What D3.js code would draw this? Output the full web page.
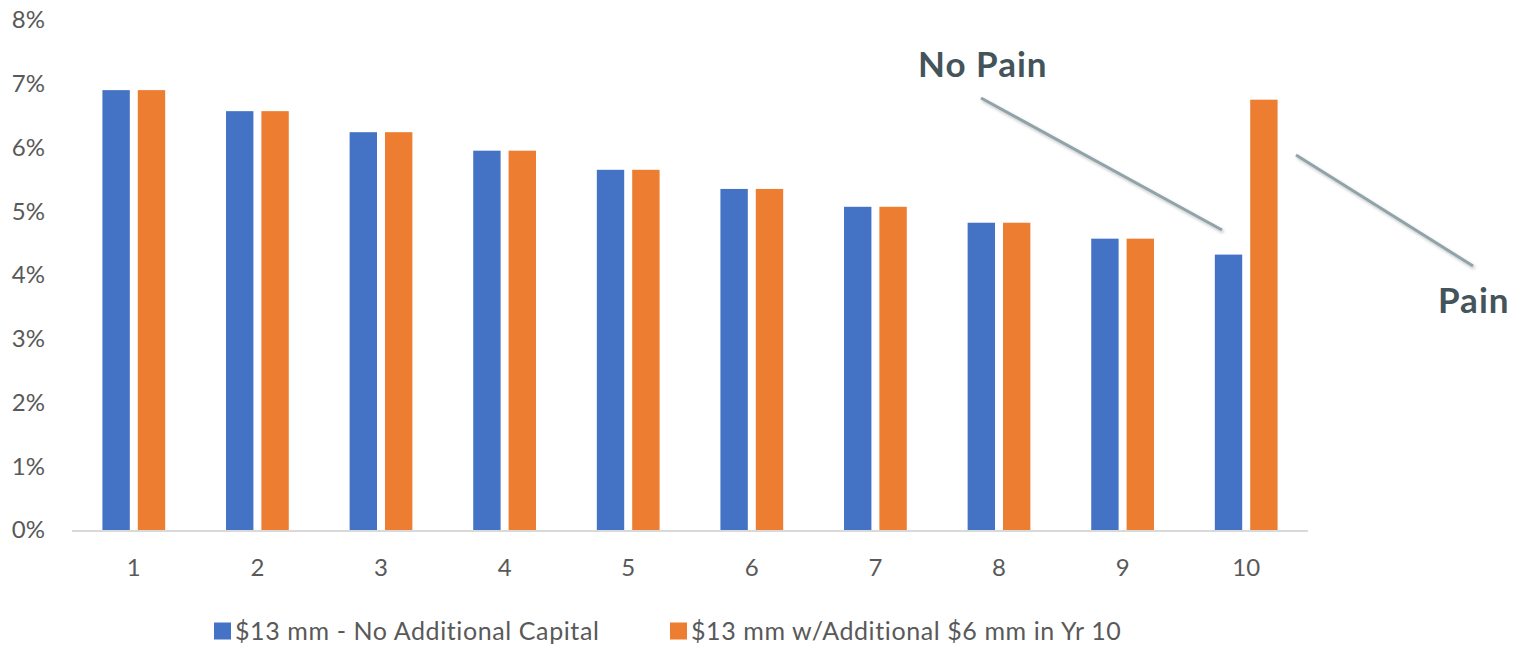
<!DOCTYPE html>
<html>
<head>
<meta charset="utf-8">
<script src="https://cdn.jsdelivr.net/npm/d3@7/dist/d3.min.js"></script>
<style>
  body { margin: 0; background: #fff; }
  svg text { font-family: Lato, "Open Sans", sans-serif; }
</style>
</head>
<body>
<div id="chart"></div>
<script>
let years = ["1", "2", "3", "4", "5", "6", "7", "8", "9", "10"];
let seriesNames = ["$13 mm - No Additional Capital", "$13 mm w/Additional $6 mm in Yr 10"];
let noCapital = [0.0690, 0.0657, 0.0624, 0.0595, 0.0565, 0.0535, 0.0507, 0.0482, 0.0457, 0.0432];
let withCapital = [0.0690, 0.0657, 0.0624, 0.0595, 0.0565, 0.0535, 0.0507, 0.0482, 0.0457, 0.0675];
let yTicks = [0, 0.01, 0.02, 0.03, 0.04, 0.05, 0.06, 0.07, 0.08];
let colors = ["#4472c4", "#ed7d31"];

let width = 1526, height = 646;
let margin = { top: 20, right: 218, bottom: 116, left: 72 };

let svg = d3.select("#chart").append("svg")
  .attr("width", width)
  .attr("height", height);

let defs = svg.append("defs");
let shadow = defs.append("filter").attr("id", "shadow")
  .attr("x", "-20%").attr("y", "-20%").attr("width", "140%").attr("height", "140%");
shadow.append("feDropShadow")
  .attr("dx", 1.5).attr("dy", 2).attr("stdDeviation", 1.5)
  .attr("flood-color", "#000").attr("flood-opacity", 0.25);

let x0 = d3.scaleBand()
  .domain(years)
  .range([margin.left, width - margin.right])
  .padding(0);

let x1 = d3.scaleBand()
  .domain([0, 1])
  .range([0, x0.bandwidth()])
  .paddingInner(0.226)
  .paddingOuter(0.86);

let y = d3.scaleLinear()
  .domain([0, 0.08])
  .range([height - margin.bottom, margin.top]);

// y tick labels
svg.append("g")
  .selectAll("text")
  .data(yTicks)
  .enter().append("text")
  .attr("x", 45)
  .attr("y", d => y(d))
  .attr("dy", "0.35em")
  .attr("text-anchor", "end")
  .attr("fill", "#595959")
  .style("font-size", "24px")
  .text(d3.format(".0%"));

// bars
let data = years.map((yr, i) => ({ year: yr, values: [noCapital[i], withCapital[i]] }));

let groups = svg.append("g")
  .selectAll("g")
  .data(data)
  .enter().append("g")
  .attr("transform", d => "translate(" + x0(d.year) + ",0)");

groups.selectAll("rect")
  .data(d => d.values.map((v, k) => ({ k: k, v: v })))
  .enter().append("rect")
  .attr("x", d => x1(d.k))
  .attr("width", x1.bandwidth())
  .attr("y", d => y(d.v))
  .attr("height", d => y(0) - y(d.v))
  .attr("fill", d => colors[d.k]);

// x axis line
svg.append("line")
  .attr("x1", margin.left)
  .attr("x2", width - margin.right)
  .attr("y1", y(0) + 1)
  .attr("y2", y(0) + 1)
  .attr("stroke", "#d9d9d9")
  .attr("stroke-width", 2);

// x labels
svg.append("g")
  .selectAll("text")
  .data(years)
  .enter().append("text")
  .attr("x", d => x0(d) + x0.bandwidth() / 2)
  .attr("y", y(0) + 38)
  .attr("dy", "0.35em")
  .attr("text-anchor", "middle")
  .attr("fill", "#595959")
  .style("font-size", "24px")
  .text(d => d);

// legend
let legendX = [214, 670];
let legend = svg.append("g")
  .selectAll("g")
  .data(seriesNames)
  .enter().append("g")
  .attr("transform", (d, i) => "translate(" + legendX[i] + ",631)");

legend.append("rect")
  .attr("x", 0)
  .attr("y", -8.5)
  .attr("width", 17)
  .attr("height", 17)
  .attr("fill", (d, i) => colors[i]);

legend.append("text")
  .attr("x", 21)
  .attr("dy", "0.35em")
  .attr("fill", "#595959")
  .style("font-size", "25px")
  .style("letter-spacing", "0.6px")
  .text(d => d);

// callouts
let callouts = [
  { label: "No Pain", tx: 918, ty: 77, line: [981, 98, 1222, 230] },
  { label: "Pain", tx: 1438, ty: 313, line: [1296, 155, 1473, 266] }
];

callouts.forEach(function(c) {
  svg.append("line")
    .attr("x1", c.line[0]).attr("y1", c.line[1])
    .attr("x2", c.line[2]).attr("y2", c.line[3])
    .attr("stroke", "#8fa3a8")
    .attr("stroke-width", 3)
    .attr("filter", "url(#shadow)");

  svg.append("text")
    .attr("x", c.tx)
    .attr("y", c.ty)
    .attr("fill", "#44545b")
    .style("font-size", "35px")
    .style("font-weight", "bold")
    .style("letter-spacing", "1px")
    .text(c.label);
});
</script>
</body>
</html>
